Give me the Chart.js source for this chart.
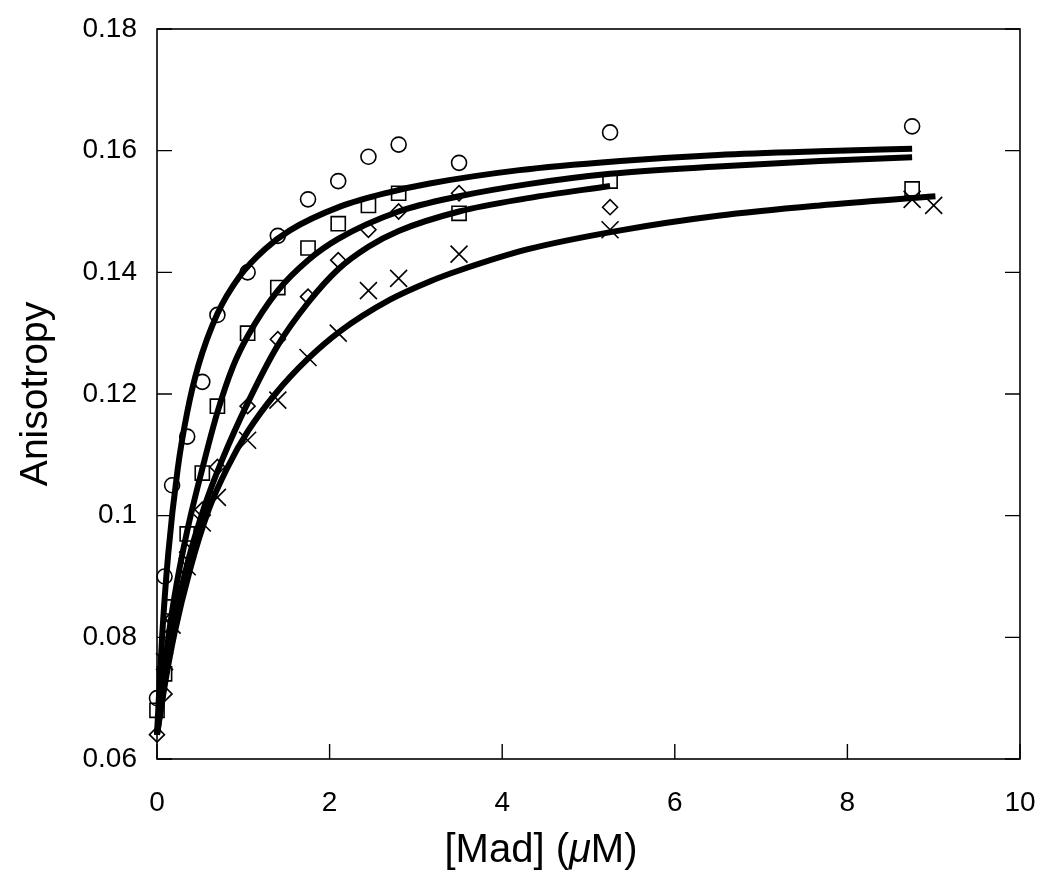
<!DOCTYPE html>
<html>
<head>
<meta charset="utf-8">
<script src="https://cdn.jsdelivr.net/npm/chart.js@4/dist/chart.umd.min.js"></script>
<style>
  html, body { margin: 0; padding: 0; background: #fff; }
  canvas { display: block; }
</style>
</head>
<body>
<canvas id="anisoChart" width="1050" height="881"></canvas>
<script>
/* ---------- data ---------- */
const circleX = [0, 0.0875, 0.175, 0.35, 0.525, 0.7, 1.05, 1.4, 1.75, 2.1, 2.45, 2.8, 3.5, 5.25, 8.75];
const circleY = [0.070, 0.090, 0.105, 0.113, 0.122, 0.133, 0.140, 0.146, 0.152, 0.155, 0.159, 0.161, 0.158, 0.163, 0.164];

const squareX = [0, 0.0875, 0.175, 0.35, 0.525, 0.7, 1.05, 1.4, 1.75, 2.1, 2.45, 2.8, 3.5, 5.25, 8.75];
const squareY = [0.068, 0.074, 0.085, 0.097, 0.107, 0.118, 0.130, 0.1375, 0.144, 0.148, 0.151, 0.153, 0.1497, 0.155, 0.1537];

const diamondX = [0, 0.0875, 0.175, 0.35, 0.525, 0.7, 1.05, 1.4, 1.75, 2.1, 2.45, 2.8, 3.5, 5.25];
const diamondY = [0.064, 0.0707, 0.083, 0.094, 0.101, 0.108, 0.118, 0.129, 0.136, 0.142, 0.147, 0.150, 0.153, 0.1507];

const crossX = [0.0875, 0.175, 0.35, 0.525, 0.7, 1.05, 1.4, 1.75, 2.1, 2.45, 2.8, 3.5, 5.25, 8.75, 9.0];
const crossY = [0.076, 0.082, 0.0916, 0.0988, 0.103, 0.1124, 0.119, 0.126, 0.130, 0.137, 0.139, 0.143, 0.147, 0.152, 0.151];

// fitted curves
const fit1X = [0, 0.06, 0.13, 0.24, 0.35, 0.48, 0.7, 0.96, 1.25, 1.54, 2.12, 2.7, 3.16, 4.2, 5.37, 6.5, 7.68, 8.75];
const fit1Y = [0.064, 0.0803, 0.0937, 0.1077, 0.117, 0.1247, 0.1332, 0.1394, 0.1438, 0.1469, 0.1508, 0.1532, 0.1546, 0.1568, 0.1583, 0.1593, 0.1599, 0.1603];

const fit2X = [0, 0.1, 0.2, 0.35, 0.53, 0.7, 0.88, 1.05, 1.4, 1.75, 2.1, 2.8, 3.5, 4.3, 5.25, 6.5, 7.68, 8.75];
const fit2Y = [0.064, 0.0765, 0.0865, 0.0975, 0.108, 0.117, 0.1245, 0.1295, 0.137, 0.142, 0.1455, 0.150, 0.1525, 0.1545, 0.1562, 0.1574, 0.1583, 0.1589];

const fit3X = [0, 0.1, 0.2, 0.35, 0.55, 0.75, 1.05, 1.4, 1.75, 2.1, 2.45, 2.8, 3.5, 4.3, 5.25];
const fit3Y = [0.064, 0.074, 0.0825, 0.092, 0.1015, 0.109, 0.1185, 0.128, 0.135, 0.1405, 0.1442, 0.1468, 0.150, 0.1522, 0.1542];

const fit4X = [0, 0.1, 0.2, 0.38, 0.6, 0.82, 1.05, 1.37, 1.75, 2.12, 2.7, 3.16, 3.5, 4.3, 5.37, 6.5, 7.68, 9.02];
const fit4Y = [0.064, 0.073, 0.0805, 0.091, 0.101, 0.108, 0.1138, 0.120, 0.1258, 0.1303, 0.1355, 0.1385, 0.1403, 0.1438, 0.1469, 0.1493, 0.151, 0.1525];

const xTicks = [0, 2, 4, 6, 8, 10];
const yTicks = [0.06, 0.08, 0.1, 0.12, 0.14, 0.16, 0.18];

function pairs(xs, ys) {
  return xs.map((x, i) => ({ x: x, y: ys[i] }));
}

function markerSet(xs, ys, style, radius) {
  return {
    data: pairs(xs, ys),
    showLine: false,
    pointStyle: style,
    pointRadius: radius,
    pointBorderWidth: 1.6,
    pointBorderColor: "#000",
    pointBackgroundColor: "rgba(0,0,0,0)",
    order: 2,
  };
}

function fitLine(xs, ys) {
  return {
    data: pairs(xs, ys),
    showLine: true,
    borderColor: "#000",
    borderWidth: 6,
    pointRadius: 0,
    cubicInterpolationMode: "monotone",
    fill: false,
    order: 1,
  };
}

/* ---------- frame, inward ticks and axis titles ---------- */
const framePlugin = {
  id: "frame",
  afterDraw(chart) {
    const ctx = chart.ctx;
    const a = chart.chartArea;
    const xs = chart.scales.x;
    const ys = chart.scales.y;
    ctx.save();
    ctx.strokeStyle = "#000";
    ctx.lineWidth = 1.6;
    ctx.strokeRect(a.left, a.top, a.right - a.left, a.bottom - a.top);

    ctx.lineWidth = 1.4;
    ctx.beginPath();
    xTicks.forEach((v) => {
      const px = xs.getPixelForValue(v);
      ctx.moveTo(px, a.bottom);
      ctx.lineTo(px, a.bottom - 15);
    });
    yTicks.forEach((v) => {
      const py = ys.getPixelForValue(v);
      ctx.moveTo(a.left, py);
      ctx.lineTo(a.left + 15, py);
      ctx.moveTo(a.right, py);
      ctx.lineTo(a.right - 15, py);
    });
    ctx.stroke();

    // y title
    ctx.fillStyle = "#000";
    ctx.font = "39px 'Liberation Sans', Arial, sans-serif";
    ctx.textAlign = "center";
    ctx.textBaseline = "middle";
    ctx.save();
    ctx.translate(36, (a.top + a.bottom) / 2);
    ctx.rotate(-Math.PI / 2);
    ctx.fillText("Anisotropy", 0, 0);
    ctx.restore();

    // x title with italic mu
    const parts = [
      { t: "[Mad] (", f: "40px 'Liberation Sans', Arial, sans-serif" },
      { t: "\u03bc", f: "italic 40px 'Liberation Sans', Arial, sans-serif" },
      { t: "M)", f: "40px 'Liberation Sans', Arial, sans-serif" },
    ];
    let total = 0;
    parts.forEach((p) => {
      ctx.font = p.f;
      p.w = ctx.measureText(p.t).width;
      total += p.w;
    });
    let cx = 541 - total / 2;
    ctx.textAlign = "left";
    parts.forEach((p) => {
      ctx.font = p.f;
      ctx.fillText(p.t, cx, 851);
      cx += p.w;
    });
    ctx.restore();
  },
};

const canvas = document.getElementById("anisoChart");
const ctx = canvas.getContext("2d");

new Chart(ctx, {
  type: "scatter",
  data: {
    datasets: [
      fitLine(fit1X, fit1Y),
      fitLine(fit2X, fit2Y),
      fitLine(fit3X, fit3Y),
      fitLine(fit4X, fit4Y),
      markerSet(circleX, circleY, "circle", 7.5),
      markerSet(squareX, squareY, "rect", 10),
      markerSet(diamondX, diamondY, "rectRot", 7.5),
      markerSet(crossX, crossY, "crossRot", 12),
    ],
  },
  options: {
    responsive: false,
    animation: false,
    clip: false,
    layout: {
      padding: { top: 29, right: 30, left: 0, bottom: 0 },
    },
    plugins: {
      legend: { display: false },
      tooltip: { enabled: false },
    },
    scales: {
      x: {
        type: "linear",
        min: 0,
        max: 10,
        afterBuildTicks: (scale) => {
          scale.ticks = xTicks.map((v) => ({ value: v }));
        },
        afterFit: (scale) => {
          scale.height = 122;
          scale.paddingLeft = 0;
          scale.paddingRight = 0;
        },
        grid: { display: false, drawTicks: false },
        border: { display: false },
        ticks: {
          color: "#000",
          padding: 27,
          maxRotation: 0,
          font: { family: "'Liberation Sans', Arial, sans-serif", size: 28 },
        },
      },
      y: {
        type: "linear",
        min: 0.06,
        max: 0.18,
        afterBuildTicks: (scale) => {
          scale.ticks = yTicks.map((v) => ({ value: v }));
        },
        afterFit: (scale) => {
          scale.width = 157;
          scale.paddingTop = 0;
          scale.paddingBottom = 0;
        },
        grid: { display: false, drawTicks: false },
        border: { display: false },
        ticks: {
          color: "#000",
          padding: 20,
          callback: (v) => String(Number(v.toFixed(2))),
          font: { family: "'Liberation Sans', Arial, sans-serif", size: 28 },
        },
      },
    },
  },
  plugins: [framePlugin],
});
</script>
</body>
</html>
